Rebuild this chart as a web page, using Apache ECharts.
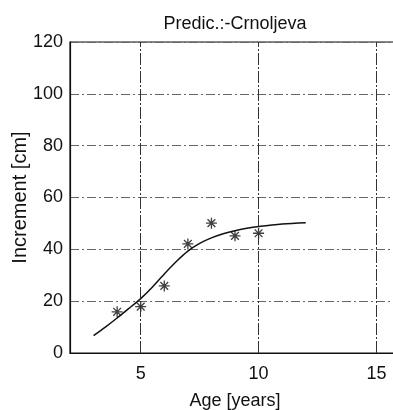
<!DOCTYPE html>
<html><head><meta charset="utf-8">
<script src="https://cdn.jsdelivr.net/npm/echarts@6/dist/echarts.min.js"></script>
<style>html,body{margin:0;padding:0;background:#fff}#c{width:393px;height:410px}</style>
</head><body><div id="c"></div>
<script>
// Observed data (stars)
const obsAge = [4, 5, 6, 7, 8, 9, 10];
const obsIncrement = [15.9, 17.9, 25.9, 42.1, 50.1, 45.2, 46.2];
// Predicted curve
const fitAge = [3, 3.5, 4, 4.5, 5, 5.5, 6, 6.5, 7, 7.5, 8, 8.5, 9, 9.5, 10, 11, 12];
const fitIncrement = [6.7, 10, 13.5, 17.2, 21, 25.5, 30.5, 35.2, 39.3, 42.3, 44.4, 46, 47.2, 48.1, 48.8, 49.8, 50.3];
// Axis ticks
const xTicks = [5, 10, 15];
const yTicks = [0, 20, 40, 60, 80, 100, 120];

const star = 'path://M-10 -1.2L10 -1.2L10 1.2L-10 1.2Z M-1.2 -10L1.2 -10L1.2 10L-1.2 10Z M-6.22 -7.92L7.92 6.22L6.22 7.92L-7.92 -6.22Z M-7.92 6.22L6.22 -7.92L7.92 -6.22L-6.22 7.92Z';
const font = 'Liberation Sans, Arial, sans-serif';
const gridStyle = {color: '#666', width: 1, type: [9, 3, 2, 3]};

const chart = echarts.init(document.getElementById('c'), null, {renderer: 'canvas'});
chart.setOption({
  animation: false,
  backgroundColor: '#fff',
  title: {
    text: 'Predic.:-Crnoljeva', left: 230, top: 10, textAlign: 'center',
    textStyle: {fontFamily: font, fontSize: 18, fontWeight: 'normal', color: '#111'}
  },
  grid: {left: 70, top: 42, width: 330, height: 311, containLabel: false, outerBoundsMode: 'none',
    show: true, borderColor: '#111', borderWidth: 1.2, backgroundColor: 'transparent'},
  xAxis: {
    type: 'value', min: 2, max: 16,
    name: 'Age [years]', nameLocation: 'middle', nameGap: 39, nameMoveOverlap: false,
    nameTextStyle: {fontFamily: font, fontSize: 18, color: '#111'},
    axisLine: {show: true, onZero: false, lineStyle: {color: '#111', width: 1.2}},
    axisTick: {show: false, customValues: xTicks},
    axisLabel: {customValues: xTicks, fontFamily: font, fontSize: 18, color: '#111', margin: 12},
    splitLine: {show: false}
  },
  yAxis: {
    type: 'value', min: 0, max: 120, interval: 20,
    name: 'Increment [cm]', nameLocation: 'middle', nameGap: 40, nameMoveOverlap: false,
    nameTextStyle: {fontFamily: font, fontSize: 20, color: '#111'},
    axisLine: {show: true, lineStyle: {color: '#111', width: 1.2}},
    axisTick: {show: false},
    axisLabel: {fontFamily: font, fontSize: 18, color: '#111', margin: 7,
      formatter: v => yTicks.includes(v) ? String(v) : ''},
    splitLine: {show: true, lineStyle: gridStyle}
  },
  series: [
    {
      type: 'line', data: fitAge.map((a, i) => [a, fitIncrement[i]]),
      smooth: 0.25, showSymbol: false, lineStyle: {color: '#111', width: 1.5},
      markLine: {
        silent: true, symbol: 'none', label: {show: false},
        lineStyle: {color: '#333', width: 1, type: [12, 2, 2, 2]},
        data: xTicks.map(v => ({xAxis: v}))
      },
      z: 3
    },
    {
      type: 'scatter', data: obsAge.map((a, i) => [a, obsIncrement[i]]),
      symbol: star, symbolSize: 11, itemStyle: {color: '#111'}, z: 4
    }
  ]
});
</script></body></html>
